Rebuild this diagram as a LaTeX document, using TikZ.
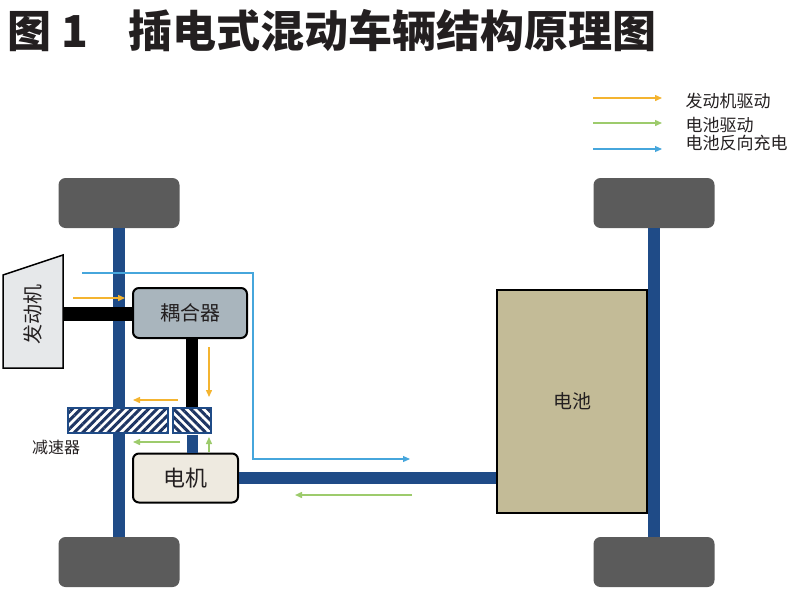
\documentclass[tikz,border=0pt]{standalone}
\usepackage{fontspec}
\setmainfont{Noto Sans CJK SC}
\usetikzlibrary{arrows.meta,patterns.meta,positioning}
\definecolor{gris rueda}{HTML}{5B5B5B}
\definecolor{azul eje}{HTML}{1F4B87}
\definecolor{gris motor}{HTML}{E6E8EA}
\definecolor{gris acoplador}{HTML}{A9B5BD}
\definecolor{beige motor}{HTML}{EEEAE0}
\definecolor{caqui}{HTML}{C3BB97}
\definecolor{azul rayado}{HTML}{1E3563}
\definecolor{naranja}{HTML}{F4B430}
\definecolor{verde}{HTML}{9DCB6C}
\definecolor{celeste}{HTML}{46A6DC}
\definecolor{texto}{HTML}{231F20}
\begin{document}
\begin{tikzpicture}[x=1pt,y=-1pt,text=texto,
    rueda/.style={fill=gris rueda,rounded corners=7pt,minimum width=121pt,minimum height=50pt,inner sep=0pt},
    caja/.style={draw=black,line width=2pt,rounded corners=6pt,inner sep=0pt,font=\fontsize{20}{20}\selectfont},
    eje/.style={line width=12pt,azul eje},
    reductor/.style={draw=azul eje,line width=1.3pt,minimum height=25pt,inner sep=0pt,preaction={fill=white},pattern color=azul rayado},
    flecha/.style={line width=1.4pt,-{Triangle[length=7pt,width=6pt]}}]
    \useasboundingbox (0,0) rectangle (800,600);
    % Titulo
    \node[anchor=west,font=\fontsize{44}{44}\bfseries\selectfont] (titulo) at (4,31) {图 1\hspace{40pt}插电式混动车辆结构原理图};
    % Leyenda
    \coordinate (leyA) at (593,98);
    \coordinate (leyB) at (593,123);
    \coordinate (leyC) at (593,149);
    \draw[flecha,naranja] (leyA) -- ++(69,0);
    \draw[flecha,verde] (leyB) -- ++(69,0);
    \draw[flecha,celeste,line width=1.1pt] (leyC) -- ++(69,0);
    \node[anchor=west,font=\fontsize{17}{17}\selectfont] (leyendaA) at (682,101) {发动机驱动};
    \node[anchor=west,font=\fontsize{17}{17}\selectfont] (leyendaB) at (682,125) {电池驱动};
    \node[anchor=west,font=\fontsize{17}{17}\selectfont] (leyendaC) at (682,143) {电池反向充电};
    % Ruedas y ejes
    \node[rueda] (ruedaTI) at (119,203) {};
    \node[rueda] (ruedaTD) at (654,203) {};
    \node[rueda] (ruedaBI) at (119,562) {};
    \node[rueda] (ruedaBD) at (654,562) {};
    \draw[eje] (ruedaTI.south) -- (ruedaBI.north);
    \draw[eje] (ruedaTD.south) -- (ruedaBD.north);
    % Motor termico
    \draw[fill=gris motor,line width=1.5pt] (3,275) -- (63,255) -- (63,368) -- (3,368) -- cycle;
    \node[rotate=90,font=\fontsize{20}{20}\selectfont] (motorTermico) at (33,314) {发动机};
    \coordinate (salidaMotor) at (63,314);
    % Acoplador, reductor, motor electrico y bateria
    \node[caja,fill=gris acoplador,minimum width=114pt,minimum height=50pt] (acoplador) at (190,313) {耦合器};
    \node[reductor,minimum width=100pt,pattern={Lines[angle=45,distance=6pt,line width=3pt]}] (reductorI) at (118,420.5) {};
    \node[reductor,minimum width=38pt,pattern={Lines[angle=-45,distance=6pt,line width=3pt]}] (reductorD) at (192,420.5) {};
    \node[font=\fontsize{16}{16}\selectfont] (etiquetaReductor) at (56,447) {减速器};
    \node[caja,fill=beige motor,minimum width=105pt,minimum height=49pt,font=\fontsize{22}{22}\selectfont] (motorElectrico) at (185.5,478) {电机};
    \node[draw=black,line width=2pt,fill=caqui,minimum width=150pt,minimum height=223pt,inner sep=0pt,font=\fontsize{19}{19}\selectfont] (bateria) at (572,401.5) {电池};
    % Arboles de transmision
    \draw[line width=14pt] (salidaMotor) -- (salidaMotor -| acoplador.west);
    \draw[line width=12pt] (reductorD.north) -- (reductorD.north |- acoplador.south);
    \draw[eje,line width=11pt] (reductorD.south) -- (reductorD.south |- motorElectrico.north);
    \draw[eje] (motorElectrico.east) -- (motorElectrico.east -| bateria.west);
    % Flujo de energia
    \draw[flecha,celeste,line width=1.1pt] (82,273) -- (253,273) -- (253,459) -- (410,459);
    \draw[flecha,naranja] (73,298) -- (125,298);
    \draw[flecha,naranja] (209,347) -- (209,397);
    \draw[flecha,naranja] (178,400) -- (133,400);
    \draw[flecha,verde] (180,442) -- (133,442);
    \draw[flecha,verde] (209,452) -- (209,437);
    \draw[flecha,verde] (412,495) -- (295,495);
\end{tikzpicture}
\end{document}
